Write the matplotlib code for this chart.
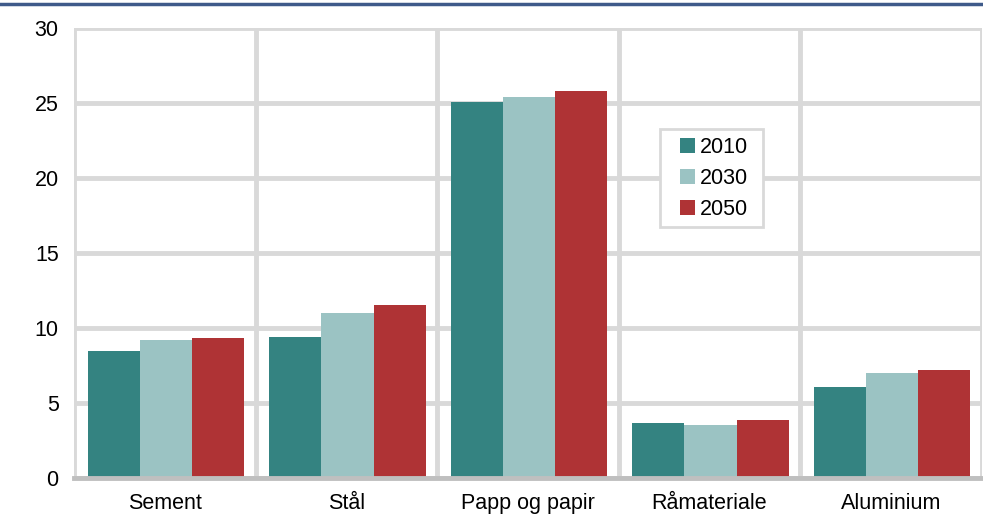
import matplotlib
matplotlib.use("Agg")
import matplotlib.pyplot as plt
import numpy as np
from matplotlib.lines import Line2D
from matplotlib.patches import Rectangle

categories = ["Sement", "Stål", "Papp og papir", "Råmateriale", "Aluminium"]
series_names = ["2010", "2030", "2050"]
v2010 = [8.45, 9.4, 25.05, 3.67, 6.07]
v2030 = [9.2, 11.0, 25.4, 3.53, 7.0]
v2050 = [9.33, 11.55, 25.8, 3.9, 7.2]
yticks = [0, 5, 10, 15, 20, 25, 30]

colors = ["#348381", "#9BC3C3", "#AF3335"]

plt.rcParams['font.family'] = ['Liberation Sans', 'DejaVu Sans']

fig = plt.figure(figsize=(9.83, 5.29), dpi=100)
ax = fig.add_axes([74/983, 1-478/529, 907.5/983, 450/529])

x = np.arange(len(categories))
w = 0.287
for i, (vals, name) in enumerate(zip([v2010, v2030, v2050], series_names)):
    ax.bar(x + (i-1)*w + 0.007, vals, width=w, color=colors[i], label=name, zorder=3, linewidth=0)

ax.set_xlim(-0.5, len(categories)-0.5)
ax.set_ylim(0, 30)
ax.set_yticks(yticks)
ax.set_xticks(x)
ax.set_xticklabels(categories, fontsize=15.5)
ax.set_xticks(np.arange(-0.5, len(categories)), minor=True)
ax.tick_params(axis='y', labelsize=15.5, length=0, pad=11)
ax.tick_params(axis='x', which='both', length=0, pad=11)

ax.grid(True, axis='y', which='major', color='#d9d9d9', linewidth=3.5, zorder=0)
ax.grid(True, axis='x', which='minor', color='#d9d9d9', linewidth=3.5, zorder=0)
ax.grid(False, axis='x', which='major')

for s in ['top', 'right', 'left']:
    ax.spines[s].set_visible(False)
ax.spines['bottom'].set_color('#bfbfbf')
ax.spines['bottom'].set_linewidth(3.5)
ax.spines['bottom'].set_zorder(4)

# legend box
x0, x1 = 0.6457, 0.7592
y0, y1 = 0.5578, 0.7756
ax.add_patch(Rectangle((x0, y0), x1 - x0, y1 - y0, transform=ax.transAxes,
                       facecolor='white', edgecolor='#d9d9d9', linewidth=2, zorder=5))

leg = ax.legend(loc='upper left', bbox_to_anchor=(0.6678, 0.758), borderaxespad=0,
                fontsize=15.5, frameon=False, handlelength=0.68,
                handleheight=0.65, handletextpad=0.22, labelspacing=0.47,
                borderpad=0)
leg.set_zorder(6)

fig.add_artist(Line2D([0, 1], [1-4/529, 1-4/529], transform=fig.transFigure,
                      color='#3F5A8A', linewidth=2.5))

fig.savefig("out.png", dpi=100)
